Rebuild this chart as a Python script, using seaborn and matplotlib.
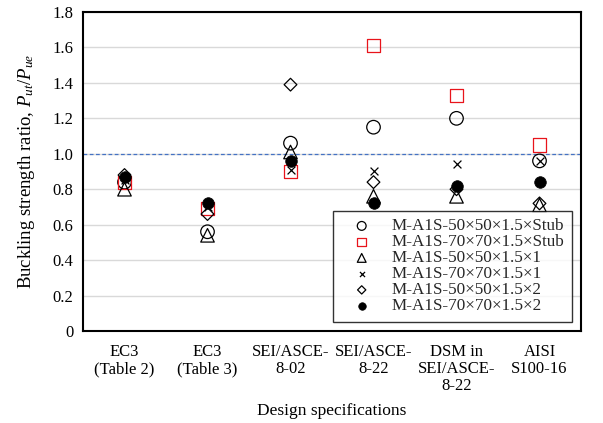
import matplotlib
matplotlib.use("Agg")
import matplotlib.pyplot as plt
import seaborn as sns
import pandas as pd

categories = ["EC3\n(Table 2)", "EC3\n(Table 3)", "SEI/ASCE-\n8-02", "SEI/ASCE-\n8-22",
              "DSM in\nSEI/ASCE-\n8-22", "AISI\nS100-16"]
series_names = ["M-A1S-50×50×1.5×Stub", "M-A1S-70×70×1.5×Stub", "M-A1S-50×50×1.5×1",
                "M-A1S-70×70×1.5×1", "M-A1S-50×50×1.5×2", "M-A1S-70×70×1.5×2"]
s50_stub = [0.84, 0.56, 1.06, 1.15, 1.20, 0.96]
s70_stub = [0.84, 0.69, 0.90, 1.61, 1.33, 1.05]
s50_1 = [0.80, 0.54, 1.01, 0.76, 0.76, 0.71]
s70_1 = [0.85, 0.70, 0.91, 0.90, 0.94, 0.96]
s50_2 = [0.88, 0.66, 1.39, 0.84, 0.80, 0.72]
s70_2 = [0.87, 0.72, 0.96, 0.72, 0.82, 0.84]
yticks = [0, 0.2, 0.4, 0.6, 0.8, 1.0, 1.2, 1.4, 1.6, 1.8]
ytick_labels = ["0", "0.2", "0.4", "0.6", "0.8", "1.0", "1.2", "1.4", "1.6", "1.8"]

sns.set_theme(style="white")
plt.rcParams['font.family'] = ['Liberation Serif', 'DejaVu Serif']
plt.rcParams['mathtext.fontset'] = 'custom'
plt.rcParams['mathtext.rm'] = 'Liberation Serif'
plt.rcParams['mathtext.it'] = 'Liberation Serif:italic'

fig = plt.figure(figsize=(6.03, 4.23), dpi=100)
ax = fig.add_axes([83/603, 1-331/423, (581-83)/603, (331-12)/423])

styles = [
    dict(marker='o', s=95, facecolor='none', edgecolor='black', linewidth=0.9),
    dict(marker='s', s=90, facecolor='none', edgecolor='#e8141b', linewidth=0.9),
    dict(marker='^', s=95, facecolor='none', edgecolor='black', linewidth=0.9),
    dict(marker='x', s=32, color='black', linewidth=0.9),
    dict(marker='D', s=42, facecolor='none', edgecolor='black', linewidth=0.9),
    dict(marker='o', s=70, color='black', edgecolor='black', linewidth=0.5),
]
data = [s50_stub, s70_stub, s50_1, s70_1, s50_2, s70_2]
for name, vals, st in zip(series_names, data, styles):
    df = pd.DataFrame({"spec": categories, "ratio": vals})
    sns.scatterplot(data=df, x="spec", y="ratio", ax=ax, label=name, zorder=3, **st)

ax.axhline(1.0, color='#4472c4', linestyle=(0, (3, 2)), linewidth=0.9, zorder=2)
ax.set_ylim(0, 1.8)
ax.set_xlim(-0.5, 5.5)
ax.set_yticks(yticks)
ax.set_yticklabels(ytick_labels)
ax.yaxis.grid(True, color='#d9d9d9', linewidth=1.0)
ax.set_axisbelow(True)
ax.tick_params(axis='both', length=0, labelsize=12, colors='black', pad=7)
ax.tick_params(axis='x', pad=9)
for lbl in ax.get_xticklabels():
    lbl.set_linespacing(1.12)
for sp in ax.spines.values():
    sp.set_color('black')
    sp.set_linewidth(1.5)
ax.set_xlabel("Design specifications", fontsize=12.5, color='black', labelpad=6)
ax.set_ylabel(r"Buckling strength ratio, $P_{ut}/P_{ue}$", fontsize=13.5, color='black', labelpad=11)

leg = ax.legend(loc='lower right', bbox_to_anchor=(0.982, 0.028), borderaxespad=0,
                frameon=True, fancybox=False,
                edgecolor='black', fontsize=12.3, markerscale=0.65, labelspacing=0.0,
                handletextpad=0.5, borderpad=0.45, handlelength=2.5)
leg.get_frame().set_linewidth(1.0)
leg.set_zorder(5)

fig.savefig("out.png", dpi=100)
